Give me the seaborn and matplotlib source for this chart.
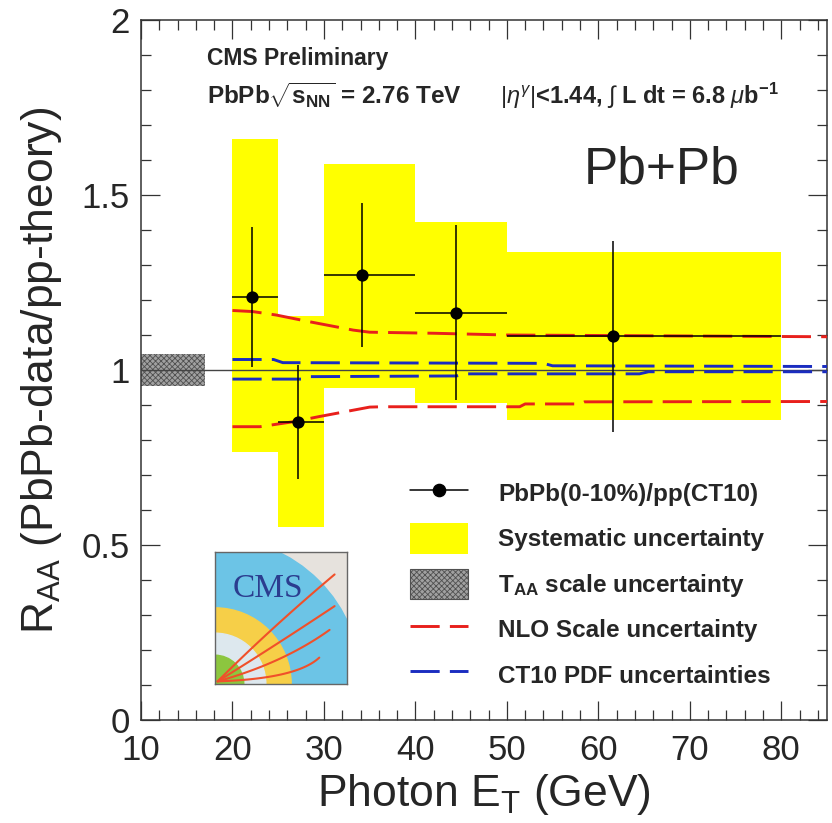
import numpy as np
import matplotlib
matplotlib.use('Agg')
import matplotlib.pyplot as plt
from matplotlib.lines import Line2D
from matplotlib.patches import Patch, Wedge, Rectangle
import seaborn as sns

# --- data ---
bin_lo = [20, 25, 30, 40, 50]
bin_hi = [25, 30, 40, 50, 80]
et_mean = [22.1, 27.2, 34.2, 44.4, 61.6]
raa = [1.21, 0.852, 1.272, 1.164, 1.096]
stat_err = [0.20, 0.162, 0.205, 0.25, 0.273]
sys_lo = [0.765, 0.552, 0.950, 0.907, 0.857]
sys_hi = [1.66, 1.155, 1.59, 1.424, 1.338]

taa_lo, taa_hi = 10, 17
taa_err = 0.045

# NLO scale uncertainty (red) and CT10 PDF uncertainty (blue)
nlo_hi_x = [20, 22.2, 24.8, 28.4, 33.2, 35, 42, 50, 85]
nlo_hi_y = [1.17, 1.167, 1.157, 1.138, 1.114, 1.108, 1.105, 1.10, 1.095]
nlo_lo_x = [20, 23, 26.6, 29.5, 35, 36.4, 51.4, 52, 58, 58.5, 85]
nlo_lo_y = [0.838, 0.838, 0.852, 0.867, 0.894, 0.895, 0.895, 0.903, 0.903, 0.909, 0.91]
pdf_hi_x = [20, 24.5, 25.5, 54, 55, 85]
pdf_hi_y = [1.03, 1.03, 1.021, 1.019, 1.012, 1.010]
pdf_lo_x = [20, 27.5, 28.5, 44.5, 45.5, 64.5, 65.5, 85]
pdf_lo_y = [0.974, 0.974, 0.981, 0.983, 0.989, 0.989, 0.995, 0.995]

xticks = [10, 20, 30, 40, 50, 60, 70, 80]
xticklabels = ['10', '20', '30', '40', '50', '60', '70', '80']
yticks = [0, 0.5, 1, 1.5, 2]
yticklabels = ['0', '0.5', '1', '1.5', '2']

legend_labels = ['PbPb(0-10%)/pp(CT10)', 'Systematic uncertainty',
                 r'T$_{\mathbf{AA}}$ scale uncertainty', 'NLO Scale uncertainty',
                 'CT10 PDF uncertainties']

YELLOW = '#ffff00'
RED = '#e8201c'
BLUE = '#1a2cc0'

sns.set_style('ticks')
plt.rcParams['font.family'] = ['Liberation Sans', 'DejaVu Sans']
plt.rcParams['mathtext.fontset'] = 'custom'
plt.rcParams['mathtext.rm'] = 'Liberation Sans'
plt.rcParams['mathtext.it'] = 'Liberation Sans:italic'
plt.rcParams['mathtext.bf'] = 'Liberation Sans:bold'
plt.rcParams['hatch.linewidth'] = 0.6

fig = plt.figure(figsize=(8.32, 8.23), dpi=100)
ax = fig.add_axes([141 / 832, 1 - 720 / 823, (827 - 141) / 832, 700 / 823])

# systematic boxes
widths = np.array(bin_hi) - np.array(bin_lo)
heights = np.array(sys_hi) - np.array(sys_lo)
ax.bar(bin_lo, heights, width=widths, bottom=sys_lo, align='edge',
       color=YELLOW, linewidth=0, zorder=1)

# T_AA box
ax.bar([taa_lo], [2 * taa_err], width=taa_hi - taa_lo, bottom=1 - taa_err,
       align='edge', facecolor='#a0a0a0', edgecolor='#505050', hatch='xxxxxx',
       linewidth=0, zorder=2)

ax.axhline(1, color='#444444', lw=1.0, zorder=3)

# theory curves
dash = (0, (10, 3.5))
for xs, ys, c in [(pdf_hi_x, pdf_hi_y, BLUE), (pdf_lo_x, pdf_lo_y, BLUE),
                  (nlo_hi_x, nlo_hi_y, RED), (nlo_lo_x, nlo_lo_y, RED)]:
    sns.lineplot(x=xs, y=ys, ax=ax, color=c, lw=2.1, linestyle=dash,
                 estimator=None, sort=False, zorder=4)

# data points
xerr_lo = np.array(et_mean) - np.array(bin_lo)
xerr_hi = np.array(bin_hi) - np.array(et_mean)
ax.errorbar(et_mean, raa, yerr=stat_err, xerr=[xerr_lo, xerr_hi], fmt='none',
            ecolor='black', elinewidth=1.1, capsize=0, zorder=5)
sns.scatterplot(x=et_mean, y=raa, ax=ax, color='black', s=78, edgecolor='black',
                linewidth=0, zorder=6)

ax.set_xlim(10, 85)
ax.set_ylim(0, 2)
ax.set_xticks(xticks)
ax.set_xticklabels(xticklabels)
ax.set_yticks(yticks)
ax.set_yticklabels(yticklabels)
ax.set_xticks(np.arange(10, 86, 2), minor=True)
ax.set_yticks(np.arange(0, 2.01, 0.1), minor=True)
ax.tick_params(which='both', direction='in', top=True, right=True,
               width=0.9, color='#333333')
ax.tick_params(which='major', length=14, labelsize=25)
ax.tick_params(which='minor', length=7)
ax.tick_params(axis='x', pad=10)
ax.tick_params(axis='y', pad=8)
for s in ax.spines.values():
    s.set_linewidth(1.1)
    s.set_color('#333333')

ax.set_xlabel(r'Photon E$_{\mathrm{T}}$ (GeV)', fontsize=32)
ax.set_ylabel(r'R$_{\mathrm{AA}}$ (PbPb-data/pp-theory)', fontsize=32)
ax.xaxis.set_label_coords(0.5, -0.074)
ax.yaxis.set_label_coords(-0.112, 0.5)

# annotations
ax.text(0.096, 0.936, 'CMS Preliminary', transform=ax.transAxes,
        fontsize=16.5, fontweight='bold')
ax.text(0.096, 0.88, r'PbPb$\sqrt{\mathbf{s}_{\mathbf{NN}}}$ = 2.76 TeV',
        transform=ax.transAxes, fontsize=17.5, fontweight='bold')
ax.text(0.523, 0.88, r'$|\eta^{\gamma}|$<1.44, $\int$ L dt = 6.8 $\mu$b$^{\mathbf{-1}}$',
        transform=ax.transAxes, fontsize=17, fontweight='bold')
ax.text(0.759, 0.767, 'Pb+Pb', transform=ax.transAxes, fontsize=37, ha='center')

# legend
handles = [
    Line2D([], [], color='black', lw=1.1, marker='o', markersize=8.8),
    Patch(facecolor=YELLOW, linewidth=0),
    Patch(facecolor='#a0a0a0', edgecolor='#505050', hatch='xxxxxx', linewidth=0.8),
    Line2D([], [], color=RED, lw=2.1, linestyle=dash),
    Line2D([], [], color=BLUE, lw=2.1, linestyle=dash),
]
leg = ax.legend(handles, legend_labels, loc='upper left',
                bbox_to_anchor=(410 / 832, 1 - 478 / 823), bbox_transform=fig.transFigure,
                frameon=False, prop={'weight': 'bold', 'size': 17.5},
                handlelength=2.39, handleheight=1.54, handletextpad=1.23,
                labelspacing=0.62, borderpad=0, borderaxespad=0)

# CMS logo drawn as an inset
logo = fig.add_axes([215 / 832, 1 - 684 / 823, 132 / 832, 132 / 823])
logo.set_xlim(0, 1)
logo.set_ylim(0, 1)
logo.set_xticks([])
logo.set_yticks([])
logo.add_patch(Rectangle((0, 0), 1, 1, color='#e6e2dd'))
for r, c in [(1.11, '#6cc4e6'), (0.577, '#f6cf48'), (0.385, '#dde8ee'), (0.218, '#8cc63f')]:
    logo.add_patch(Wedge((0, 0), r, 0, 90, color=c))
logo.text(0.4, 0.72, 'CMS', ha='center', va='center', fontsize=24,
          family='Liberation Serif', color='#2b3d8f')
t = np.linspace(0, 1, 40)
for ex, ey, bx, by in [(0.886, 0.81, 0.4, 0.4), (0.886, 0.57, 0.45, 0.28),
                       (0.848, 0.39, 0.5, 0.14), (0.77, 0.18, 0.6, 0.02)]:
    cx = 2 * (1 - t) * t * bx + t ** 2 * ex + 0.02
    cy = 2 * (1 - t) * t * by + t ** 2 * ey + 0.02
    logo.plot(cx, cy, color='#f0502a', lw=1.5)
for s in logo.spines.values():
    s.set_color('#666666')
    s.set_linewidth(1.0)

fig.savefig('out.png', dpi=100)
